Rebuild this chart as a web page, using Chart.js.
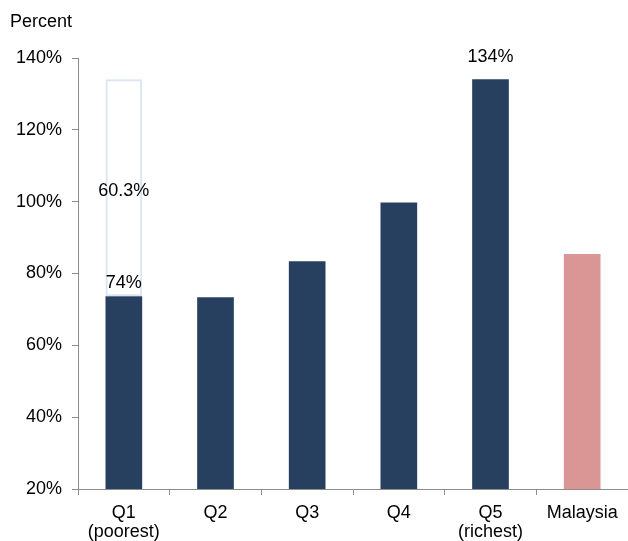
<!DOCTYPE html>
<html><head><meta charset="utf-8">
<script src="https://cdn.jsdelivr.net/npm/chart.js@4"></script>
<style>html,body{margin:0;padding:0;background:#fff}#wrap{width:628px;height:541px}</style>
</head><body><div id="wrap"><canvas id="c" width="628" height="541"></canvas></div>
<script>
const categories = [['Q1','(poorest)'], 'Q2', 'Q3', 'Q4', ['Q5','(richest)'], 'Malaysia'];
const values = [73.7, 73.4, 83.4, 99.8, 134.1, 85.4];
const gapRange = [[73.7, 134.1], null, null, null, null, null];
const valueLabels = ['74%', null, null, null, '134%', null];
const gapLabels = ['60.3%', null, null, null, null, null];
const yTicks = [20, 40, 60, 80, 100, 120, 140];

const NAVY = '#274060', PINK = '#d99694', GHOST = '#dbe5f1', AXIS = '#8c8c8c';
const FONT = "'Liberation Sans', Arial, sans-serif";

const labelPlugin = {
  id: 'labels',
  afterDatasetsDraw(chart) {
    const ctx = chart.ctx;
    ctx.save();
    ctx.fillStyle = '#000';
    ctx.font = '18px ' + FONT;
    ctx.textAlign = 'center';
    ctx.textBaseline = 'middle';
    const m0 = chart.getDatasetMeta(0), m1 = chart.getDatasetMeta(1);
    valueLabels.forEach((t, i) => {
      if (!t) return;
      const b = m0.data[i];
      // label sits above the bar; above the hollow bar it sits just over the solid part
      const off = gapLabels[i] ? 13 : 22;
      ctx.fillText(t, b.x, b.y - off);
    });
    gapLabels.forEach((t, i) => {
      if (!t) return;
      const b = m1.data[i];
      ctx.fillText(t, b.x, (b.y + b.base) / 2 + 3);
    });
    ctx.textAlign = 'left';
    ctx.fillText('Percent', 10, 22);
    ctx.restore();
  }
};

new Chart(document.getElementById('c'), {
  type: 'bar',
  data: {
    labels: categories,
    datasets: [
      { data: values, backgroundColor: values.map((v, i) => i === values.length - 1 ? PINK : NAVY),
        grouped: false, barPercentage: 0.4, categoryPercentage: 1, order: 1 },
      { data: gapRange, backgroundColor: 'rgba(0,0,0,0)', borderColor: GHOST, borderWidth: 2,
        borderSkipped: false, grouped: false, barPercentage: 0.4, categoryPercentage: 1, order: 0 }
    ]
  },
  options: {
    responsive: false, animation: false, devicePixelRatio: 1,
    layout: { padding: { top: 58, left: 0, right: 0, bottom: 0 } },
    plugins: { legend: { display: false }, tooltip: { enabled: false } },
    scales: {
      x: {
        offset: true,
        grid: { display: true, drawOnChartArea: false, drawTicks: true, tickLength: 6, color: AXIS, offset: true },
        border: { display: true, color: AXIS, width: 1 },
        ticks: { color: '#000', font: { family: FONT, size: 18, lineHeight: 1.08 }, padding: 8, maxRotation: 0, autoSkip: false },
        afterFit(s) { s.height = 52; }
      },
      y: {
        min: 20, max: 140,
        afterBuildTicks(s) { s.ticks = yTicks.map(v => ({ value: v })); },
        grid: { display: true, drawOnChartArea: false, drawTicks: true, tickLength: 6, color: AXIS },
        border: { display: true, color: AXIS, width: 1 },
        ticks: { color: '#000', font: { family: FONT, size: 18 }, padding: 10, callback: v => v + '%' },
        afterFit(s) { s.width = 78; }
      }
    }
  },
  plugins: [labelPlugin]
});
</script></body></html>
